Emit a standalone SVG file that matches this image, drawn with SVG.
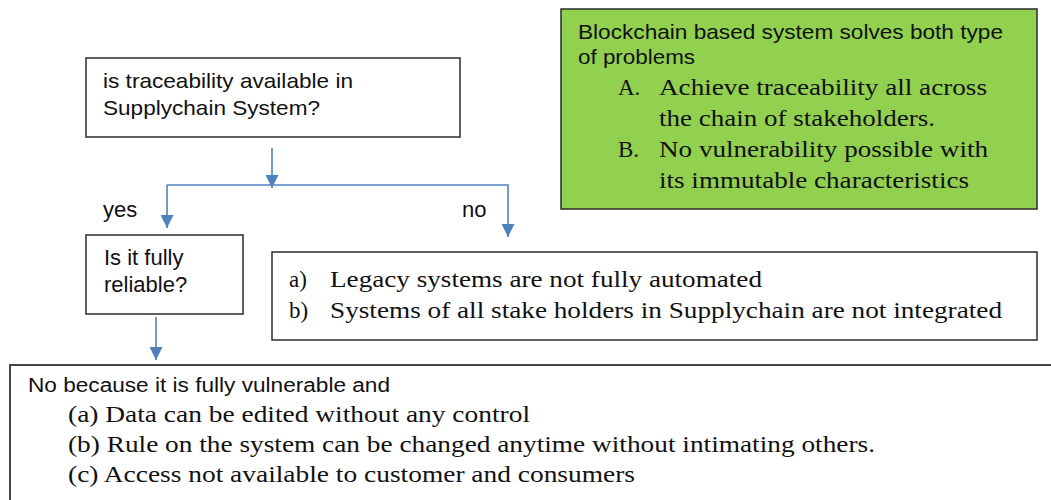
<svg xmlns="http://www.w3.org/2000/svg" width="1051" height="500" viewBox="0 0 1051 500">
<defs>
<style>
.box{fill:#ffffff;stroke:#2b2b2b;stroke-width:1.5}
.green{fill:#92D050;stroke:#2b2b2b;stroke-width:1.5}
.sans{font-family:"Liberation Sans",Arial,sans-serif;font-size:21px;fill:#111}
.big{font-size:22px}
.serif{font-family:"Liberation Serif","Times New Roman",serif;font-size:23px;fill:#111}
.conn{stroke:#4F81BD;stroke-width:1.6;fill:none}
</style>
<marker id="arr" viewBox="0 0 10 10" refX="10" refY="5" markerWidth="13" markerHeight="13" markerUnits="userSpaceOnUse" orient="auto">
<path d="M0,0 L10,5 L0,10 z" fill="#4F81BD"/>
</marker>
</defs>
<rect width="1051" height="500" fill="#ffffff"/>

<g id="connectors">
<path class="conn" d="M272,148 V188" marker-end="url(#arr)"/>
<path class="conn" d="M167,185 H509"/>
<path class="conn" d="M167,185 V228" marker-end="url(#arr)"/>
<path class="conn" d="M508,186 V237" marker-end="url(#arr)"/>
<path class="conn" d="M156,317 V360" marker-end="url(#arr)"/>
</g>

<g id="node-traceability">
<rect class="box" x="86" y="58" width="374" height="79"/>
<text class="sans" x="103" y="88" textLength="250" lengthAdjust="spacingAndGlyphs">is traceability available in</text>
<text class="sans" x="103" y="115" textLength="217" lengthAdjust="spacingAndGlyphs">Supplychain System?</text>
</g>

<g id="label-yes"><text class="sans big" x="103" y="217">yes</text></g>
<g id="label-no"><text class="sans big" x="462" y="217">no</text></g>

<g id="node-reliable">
<rect class="box" x="86" y="235" width="157" height="79"/>
<text class="sans big" x="104" y="265">Is it fully</text>
<text class="sans big" x="104" y="292">reliable?</text>
</g>

<g id="node-no-branch">
<rect class="box" x="272" y="252" width="765" height="88"/>
<text class="serif" x="289" y="287">a)</text>
<text class="serif" x="330" y="287" textLength="432" lengthAdjust="spacingAndGlyphs">Legacy systems are not fully automated</text>
<text class="serif" x="289" y="318">b)</text>
<text class="serif" x="330" y="318" textLength="672" lengthAdjust="spacingAndGlyphs">Systems of all stake holders in Supplychain are not integrated</text>
</g>

<g id="node-blockchain">
<rect class="green" x="561" y="9" width="476" height="200"/>
<text class="sans" x="578" y="39" textLength="425" lengthAdjust="spacingAndGlyphs">Blockchain based system solves both type</text>
<text class="sans" x="578" y="64" textLength="117" lengthAdjust="spacingAndGlyphs">of problems</text>
<text class="serif" x="618" y="95">A.</text>
<text class="serif" x="659" y="95" textLength="328" lengthAdjust="spacingAndGlyphs">Achieve traceability all across</text>
<text class="serif" x="659" y="126" textLength="276" lengthAdjust="spacingAndGlyphs">the chain of stakeholders.</text>
<text class="serif" x="618" y="157">B.</text>
<text class="serif" x="659" y="157" textLength="329" lengthAdjust="spacingAndGlyphs">No vulnerability possible with</text>
<text class="serif" x="659" y="188" textLength="310" lengthAdjust="spacingAndGlyphs">its immutable characteristics</text>
</g>

<g id="node-vulnerable">
<rect class="box" x="10" y="365" width="1060" height="160" style="stroke:#444;stroke-width:2"/>
<text class="sans" x="28" y="392" style="font-size:20px" textLength="362" lengthAdjust="spacingAndGlyphs">No because it is fully vulnerable and</text>
<text class="serif" x="68" y="422" textLength="462" lengthAdjust="spacingAndGlyphs">(a) Data can be edited without any control</text>
<text class="serif" x="68" y="452" textLength="807" lengthAdjust="spacingAndGlyphs">(b) Rule on the system can be changed anytime without intimating others.</text>
<text class="serif" x="68" y="482" textLength="567" lengthAdjust="spacingAndGlyphs">(c) Access not available to customer and consumers</text>
</g>
</svg>
